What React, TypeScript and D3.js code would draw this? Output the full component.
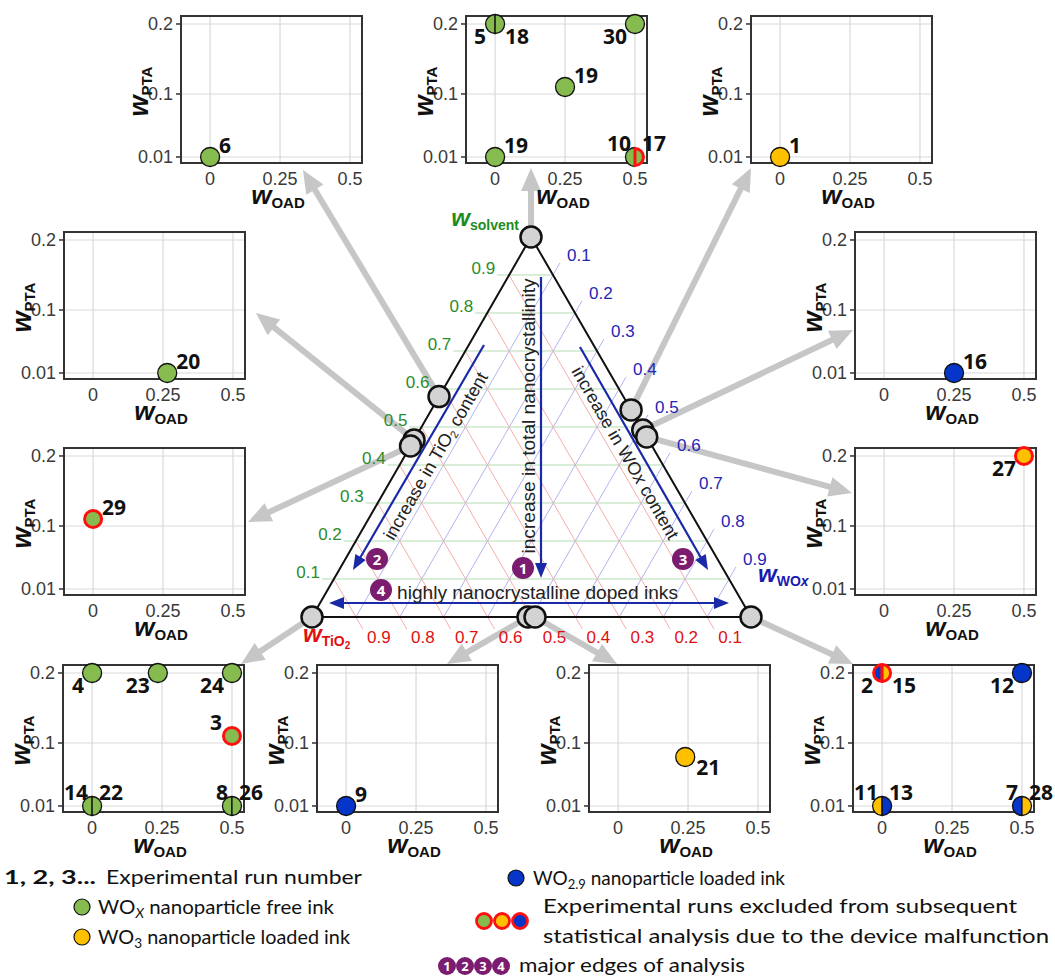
import React from "react";
import * as d3 from "d3";

type Ink = "free" | "WO3" | "WO2.9";

// axis ticks
const oadTicks = [0, 0.25, 0.5];
const ptaTicks = [0.01, 0.1, 0.2];
const ternaryTicks = [0.1, 0.2, 0.3, 0.4, 0.5, 0.6, 0.7, 0.8, 0.9];

// design points on the ternary diagram: [id, w_solvent, w_TiO2, w_WOx]
const designPoints: [string, number, number, number][] = [
  ["apex", 1, 0, 0],
  ["L1", 0.58, 0.42, 0],
  ["L2a", 0.466, 0.534, 0],
  ["L2b", 0.45, 0.55, 0],
  ["R1", 0.545, 0, 0.455],
  ["R2a", 0.492, 0, 0.508],
  ["R2b", 0.474, 0, 0.526],
  ["BL", 0, 1, 0],
  ["BMa", 0, 0.508, 0.492],
  ["BMb", 0, 0.492, 0.508],
  ["BR", 0, 0, 1],
];

// experimental runs: [run, design point, w_OAD, w_PTA, ink, excluded]
const runTable: [number, string, number, number, Ink, boolean][] = [
  [6, "L1", 0, 0.01, "free", false],
  [5, "apex", 0, 0.2, "free", false],
  [18, "apex", 0, 0.2, "free", false],
  [30, "apex", 0.5, 0.2, "free", false],
  [19, "apex", 0.25, 0.11, "free", false],
  [19, "apex", 0, 0.01, "free", false],
  [10, "apex", 0.5, 0.01, "free", false],
  [17, "apex", 0.5, 0.01, "free", true],
  [1, "R1", 0, 0.01, "WO3", false],
  [20, "L2a", 0.265, 0.01, "free", false],
  [16, "R2a", 0.25, 0.01, "WO2.9", false],
  [29, "L2b", 0, 0.11, "free", true],
  [27, "R2b", 0.5, 0.2, "WO3", true],
  [4, "BL", 0, 0.2, "free", false],
  [23, "BL", 0.235, 0.2, "free", false],
  [24, "BL", 0.5, 0.2, "free", false],
  [3, "BL", 0.5, 0.11, "free", true],
  [14, "BL", 0, 0.01, "free", false],
  [22, "BL", 0, 0.01, "free", false],
  [8, "BL", 0.5, 0.01, "free", false],
  [26, "BL", 0.5, 0.01, "free", false],
  [9, "BMa", 0, 0.01, "WO2.9", false],
  [21, "BMb", 0.24, 0.08, "WO3", false],
  [2, "BR", 0, 0.2, "WO2.9", true],
  [15, "BR", 0, 0.2, "WO3", true],
  [12, "BR", 0.5, 0.2, "WO2.9", false],
  [11, "BR", 0, 0.01, "WO3", false],
  [13, "BR", 0, 0.01, "WO2.9", false],
  [7, "BR", 0.5, 0.01, "WO2.9", false],
  [28, "BR", 0.5, 0.01, "WO3", false],
];

const inkColor: Record<Ink, string> = { free: "#86bc4f", WO3: "#ffc000", "WO2.9": "#0535c9" };
const RED = "#ff1010";
const GREY_ARROW = "#c6c6c6";
const BLUE_ARROW = "#1a2aa6";
const PURPLE = "#7b1c6f";
const TICK_FONT = "'Liberation Sans', Arial, sans-serif";
const LABEL_FONT = "'Open Sans', sans-serif";
const LEGEND_FONT = "Lato, sans-serif";

// panel layout (box origin and arrow tip)
const PW = 181;
const PH = 147;
const panelLayout: Record<string, { x: number; y: number; tip: [number, number] }> = {
  L1: { x: 181, y: 16, tip: [303, 170] },
  apex: { x: 466, y: 16, tip: [531, 168] },
  R1: { x: 751, y: 16, tip: [751, 168] },
  L2a: { x: 64, y: 232, tip: [256, 313] },
  R2a: { x: 855, y: 232, tip: [853, 330] },
  L2b: { x: 64, y: 448, tip: [248, 522] },
  R2b: { x: 855, y: 448, tip: [852, 493] },
  BL: { x: 63, y: 665, tip: [241, 664] },
  BMa: { x: 317, y: 665, tip: [447, 664] },
  BMb: { x: 589, y: 665, tip: [617, 664] },
  BR: { x: 853, y: 665, tip: [853, 664] },
};

// label side overrides
const labelSide: Record<number, string> = { 21: "se", 3: "nw" };

const A: [number, number] = [531, 237];
const L: [number, number] = [312, 617];
const R: [number, number] = [751, 617];
const tern = (s: number, t: number, w: number): [number, number] => [
  A[0] * s + L[0] * t + R[0] * w,
  A[1] * s + L[1] * t + R[1] * w,
];

function arrow(x1: number, y1: number, x2: number, y2: number, color: string, width: number, hl: number, hw: number, key: string) {
  const len = Math.hypot(x2 - x1, y2 - y1);
  const ux = (x2 - x1) / len;
  const uy = (y2 - y1) / len;
  const bx = x2 - ux * hl;
  const by = y2 - uy * hl;
  return (
    <g key={key}>
      <line x1={x1} y1={y1} x2={bx + ux * 2} y2={by + uy * 2} stroke={color} strokeWidth={width} />
      <polygon points={`${x2},${y2} ${bx - uy * hw},${by + ux * hw} ${bx + uy * hw},${by - ux * hw}`} fill={color} />
    </g>
  );
}

function Marker({ cx, cy, runs, r = 9.5 }: { cx: number; cy: number; runs: any[]; r?: number }) {
  if (runs.length === 1) {
    const d = runs[0];
    return (
      <circle cx={cx} cy={cy} r={d.excluded ? r - 1 : r} fill={inkColor[d.ink as Ink]}
        stroke={d.excluded ? RED : "#111"} strokeWidth={d.excluded ? 3 : 1.3} />
    );
  }
  const halves = runs.map((d, i) => {
    const sweep = i === 0 ? 0 : 1;
    const rr = d.excluded ? r - 1 : r;
    return { d, path: `M${cx},${cy - rr} A${rr},${rr} 0 0,${sweep} ${cx},${cy + rr} Z` };
  });
  halves.sort((a, b) => Number(a.d.excluded) - Number(b.d.excluded));
  return (
    <g>
      {halves.map((h, i) => (
        <path key={i} d={h.path} fill={inkColor[h.d.ink as Ink]} stroke={h.d.excluded ? RED : "#111"}
          strokeWidth={h.d.excluded ? 3 : 1.3} strokeLinejoin="round" />
      ))}
    </g>
  );
}

function AxisW({ x, y, sub, rotate, size = 27 }: { x: number; y: number; sub: string; rotate?: boolean; size?: number }) {
  return (
    <text transform={`translate(${x},${y})${rotate ? " rotate(-90)" : ""}`} textAnchor="middle"
      fontFamily={TICK_FONT} fontWeight="bold" fill="#111">
      <tspan fontSize={size} fontStyle="italic">w</tspan>
      <tspan fontSize={15} dy={4}>{sub}</tspan>
    </text>
  );
}

function Panel({ id }: { id: string }) {
  const { x, y } = panelLayout[id];
  const xs = d3.scaleLinear().domain([-0.104, 0.543]).range([x, x + PW]);
  const ys = d3.scaleLinear().domain([0.0014, 0.2114]).range([y + PH, y]);
  const here = runTable
    .filter((r) => r[1] === id)
    .map(([run, point, oad, pta, ink, excluded]) => ({ run, point, oad, pta, ink, excluded }));
  const groups = d3.groups(here, (d) => `${d.oad}|${d.pta}`);
  return (
    <g>
      <rect x={x} y={y} width={PW} height={PH} fill="white" />
      {oadTicks.map((t) => (
        <line key={"gx" + t} x1={xs(t)} x2={xs(t)} y1={y} y2={y + PH} stroke="#d9d9d9" strokeWidth={1.2} />
      ))}
      {ptaTicks.map((t) => (
        <line key={"gy" + t} x1={x} x2={x + PW} y1={ys(t)} y2={ys(t)} stroke="#d9d9d9" strokeWidth={1.2} />
      ))}
      <rect x={x} y={y} width={PW} height={PH} fill="none" stroke="#333" strokeWidth={2} />
      {ptaTicks.map((t) => (
        <g key={"ty" + t}>
          <line x1={x - 5} x2={x} y1={ys(t)} y2={ys(t)} stroke="#333" strokeWidth={1.5} />
          <text x={x - 8} y={ys(t) + 6} textAnchor="end" fontFamily={TICK_FONT} fontSize={18} fill="#3a3a3a">
            {String(t)}
          </text>
        </g>
      ))}
      {oadTicks.map((t) => (
        <text key={"tx" + t} x={xs(t)} y={y + PH + 22} textAnchor="middle" fontFamily={TICK_FONT} fontSize={18} fill="#3a3a3a">
          {String(t)}
        </text>
      ))}
      <AxisW x={x - 33} y={y + PH / 2 + 2} sub="PTA" rotate />
      <AxisW x={x + 97} y={y + PH + 41} sub="OAD" size={26} />
      {groups.map(([key, g]) => {
        const cx = xs(g[0].oad);
        const cy = ys(g[0].pta);
        const top = g[0].pta >= 0.2;
        const labels =
          g.length === 2
            ? [
                { t: g[0].run, x: cx - (top ? 9 : 4), y: top ? cy + 20 : cy - 6, a: "end" },
                { t: g[1].run, x: cx + (top ? 10 : 7), y: top ? cy + 20 : cy - 6, a: "start" },
              ]
            : (() => {
                const side = labelSide[g[0].run] || (top ? "sw" : "ne");
                if (side === "sw") return [{ t: g[0].run, x: cx - 8, y: cy + 20, a: "end" }];
                if (side === "se") return [{ t: g[0].run, x: cx + 11, y: cy + 18, a: "start" }];
                if (side === "nw") return [{ t: g[0].run, x: cx - 10, y: cy - 6, a: "end" }];
                return [{ t: g[0].run, x: cx + 9, y: cy - 4, a: "start" }];
              })();
        return (
          <g key={key}>
            <Marker cx={cx} cy={cy} runs={g} />
            {labels.map((l, i) => (
              <text key={i} x={l.x} y={l.y} textAnchor={l.a as any} fontFamily={LABEL_FONT} fontWeight="bold"
                fontSize={21} fill="#111">
                {l.t}
              </text>
            ))}
          </g>
        );
      })}
    </g>
  );
}

function Ternary() {
  const up = [0.5, -0.866];
  const down = [0.5, 0.866];
  return (
    <g>
      {/* grid lines */}
      {ternaryTicks.map((c) => {
        const p1 = tern(c, 1 - c, 0);
        const p2 = tern(c, 0, 1 - c);
        return (
          <g key={"g" + c}>
            <line x1={p1[0] - 12} y1={p1[1]} x2={p2[0]} y2={p2[1]} stroke="#b3dcb3" strokeWidth={1} />
            <text x={p1[0] - 14} y={p1[1] - 1} textAnchor="end" fontFamily={TICK_FONT} fontSize={17} fill="#2b8c2b">
              {c.toFixed(1)}
            </text>
          </g>
        );
      })}
      {ternaryTicks.map((c) => {
        const p1 = tern(1 - c, 0, c);
        const p2 = tern(0, 1 - c, c);
        return (
          <g key={"b" + c}>
            <line x1={p2[0]} y1={p2[1]} x2={p1[0] + up[0] * 14} y2={p1[1] + up[1] * 14} stroke="#b4b4ee" strokeWidth={1} />
            <text x={p1[0] + 14} y={p1[1] - 14} fontFamily={TICK_FONT} fontSize={17} fill="#2525b5">
              {c.toFixed(1)}
            </text>
          </g>
        );
      })}
      {ternaryTicks.map((c) => {
        const p1 = tern(1 - c, c, 0);
        const p2 = tern(0, c, 1 - c);
        return (
          <g key={"r" + c}>
            <line x1={p1[0]} y1={p1[1]} x2={p2[0] + down[0] * 14} y2={p2[1] + down[1] * 14} stroke="#f3aeae" strokeWidth={1} />
            <text x={p2[0] + 23} y={p2[1] + 26} textAnchor="middle" fontFamily={TICK_FONT} fontSize={17} fill="#e01010">
              {c.toFixed(1)}
            </text>
          </g>
        );
      })}
      <polygon points={`${A} ${L} ${R}`} fill="none" stroke="#111" strokeWidth={2} strokeLinejoin="round" />

      {/* vertex labels */}
      <text x={519} y={226} textAnchor="end" fontFamily={TICK_FONT} fontWeight="bold" fill="#1e8c1e">
        <tspan fontSize={24} fontStyle="italic">w</tspan>
        <tspan fontSize={14} dy={4}>solvent</tspan>
      </text>
      <text x={303} y={642} fontFamily={TICK_FONT} fontWeight="bold" fill="#e01010">
        <tspan fontSize={24} fontStyle="italic">w</tspan>
        <tspan fontSize={14} dy={4}>TiO</tspan>
        <tspan fontSize={10} dy={3}>2</tspan>
      </text>
      <text x={758} y={582} fontFamily={TICK_FONT} fontWeight="bold" fill="#1a1ab0">
        <tspan fontSize={24} fontStyle="italic">w</tspan>
        <tspan fontSize={14} dy={4}>WO</tspan>
        <tspan fontSize={14} fontStyle="italic">x</tspan>
      </text>

      {/* analysis edges */}
      {arrow(541, 277, 541, 578, BLUE_ARROW, 2.2, 15, 6, "a1")}
      {arrow(484, 345, 353, 570, BLUE_ARROW, 2.2, 15, 6, "a2")}
      {arrow(580, 347, 708, 570, BLUE_ARROW, 2.2, 15, 6, "a3")}
      {arrow(529, 603, 729, 603, BLUE_ARROW, 2.2, 15, 6, "a4r")}
      {arrow(531, 603, 329, 603, BLUE_ARROW, 2.2, 15, 6, "a4l")}
      <text transform="translate(535,416) rotate(-90)" textAnchor="middle" fontFamily={TICK_FONT} fontSize={18}
        fill="#222" textLength={275} lengthAdjust="spacingAndGlyphs">
        increase in total nanocrystallinity
      </text>
      <text transform="translate(441,459) rotate(-60)" textAnchor="middle" fontFamily={TICK_FONT} fontSize={18} fill="#222">
        increase in TiO<tspan fontSize={11} dy={3}>2</tspan><tspan dy={-3}> content</tspan>
      </text>
      <text transform="translate(620,456) rotate(60)" textAnchor="middle" fontFamily={TICK_FONT} fontSize={18} fill="#222">
        increase in WO<tspan fontStyle="italic">x</tspan> content
      </text>
      <text x={397} y={599} fontFamily={TICK_FONT} fontSize={18} fill="#222" textLength={281} lengthAdjust="spacingAndGlyphs">
        highly nanocrystalline doped inks
      </text>
      {[
        [1, 523, 568],
        [2, 377, 559],
        [3, 683, 559],
        [4, 381, 590],
      ].map(([n, x, y]) => (
        <g key={"p" + n}>
          <circle cx={x} cy={y} r={11} fill={PURPLE} />
          <text x={x} y={y + 5.5} textAnchor="middle" fontFamily={LABEL_FONT} fontWeight="bold" fontSize={15} fill="white">
            {n}
          </text>
        </g>
      ))}
    </g>
  );
}

function Legend() {
  const t = { fontFamily: LEGEND_FONT, fontSize: 19, fill: "#111" };
  const purpleNums = [1, 2, 3, 4];
  const excludedInks: Ink[] = ["free", "WO3", "WO2.9"];
  return (
    <g>
      <text x={4} y={884} {...t} fontWeight="bold" textLength={92} lengthAdjust="spacingAndGlyphs">1, 2, 3...</text>
      <text x={106} y={884} {...t} textLength={256} lengthAdjust="spacingAndGlyphs">Experimental run number</text>

      <circle cx={82} cy={907} r={8} fill={inkColor.free} stroke="#111" strokeWidth={1.2} />
      <text x={98} y={914} {...t} textLength={236} lengthAdjust="spacingAndGlyphs">
        WO<tspan fontSize={13} dy={4} fontStyle="italic">X</tspan><tspan dy={-4}> nanoparticle free ink</tspan>
      </text>
      <circle cx={82} cy={937} r={8} fill={inkColor.WO3} stroke="#111" strokeWidth={1.2} />
      <text x={98} y={944} {...t} textLength={252} lengthAdjust="spacingAndGlyphs">
        WO<tspan fontSize={13} dy={4}>3</tspan><tspan dy={-4}> nanoparticle loaded ink</tspan>
      </text>

      <circle cx={516} cy={878} r={8} fill={inkColor["WO2.9"]} stroke="#111" strokeWidth={1.2} />
      <text x={533} y={885} {...t} textLength={252} lengthAdjust="spacingAndGlyphs">
        WO<tspan fontSize={13} dy={4}>2.9</tspan><tspan dy={-4}> nanoparticle loaded ink</tspan>
      </text>

      {excludedInks.map((k, i) => (
        <circle key={k} cx={484 + i * 18} cy={921} r={7.5} fill={inkColor[k]} stroke={RED} strokeWidth={2.8} />
      ))}
      <text x={543} y={913} {...t} textLength={474} lengthAdjust="spacingAndGlyphs">
        Experimental runs excluded from subsequent
      </text>
      <text x={543} y={943} {...t} textLength={506} lengthAdjust="spacingAndGlyphs">
        statistical analysis due to the device malfunction
      </text>

      {purpleNums.map((n, i) => (
        <g key={n}>
          <circle cx={447 + i * 18} cy={966} r={9} fill={PURPLE} />
          <text x={447 + i * 18} y={971} textAnchor="middle" fontFamily={LABEL_FONT} fontWeight="bold" fontSize={13} fill="white">
            {n}
          </text>
        </g>
      ))}
      <text x={519} y={972} {...t} textLength={226} lengthAdjust="spacingAndGlyphs">major edges of analysis</text>
    </g>
  );
}

export default function App() {
  const pts = new Map(designPoints.map(([id, s, t, w]) => [id, tern(s, t, w)]));
  return (
    <svg width={1055} height={980} style={{ position: "absolute", left: 0, top: 0, background: "white" }}>
      {designPoints.map(([id]) => {
        const [x1, y1] = pts.get(id)!;
        const [x2, y2] = panelLayout[id].tip;
        return arrow(x1, y1, x2, y2, GREY_ARROW, 6, 23, 10, "ga" + id);
      })}
      {Object.keys(panelLayout).map((id) => (
        <Panel key={id} id={id} />
      ))}
      <Ternary />
      {designPoints.map(([id]) => {
        const [x, y] = pts.get(id)!;
        return <circle key={"dp" + id} cx={x} cy={y} r={10.5} fill="#d3d3d3" stroke="#111" strokeWidth={2.5} />;
      })}
      <Legend />
    </svg>
  );
}
